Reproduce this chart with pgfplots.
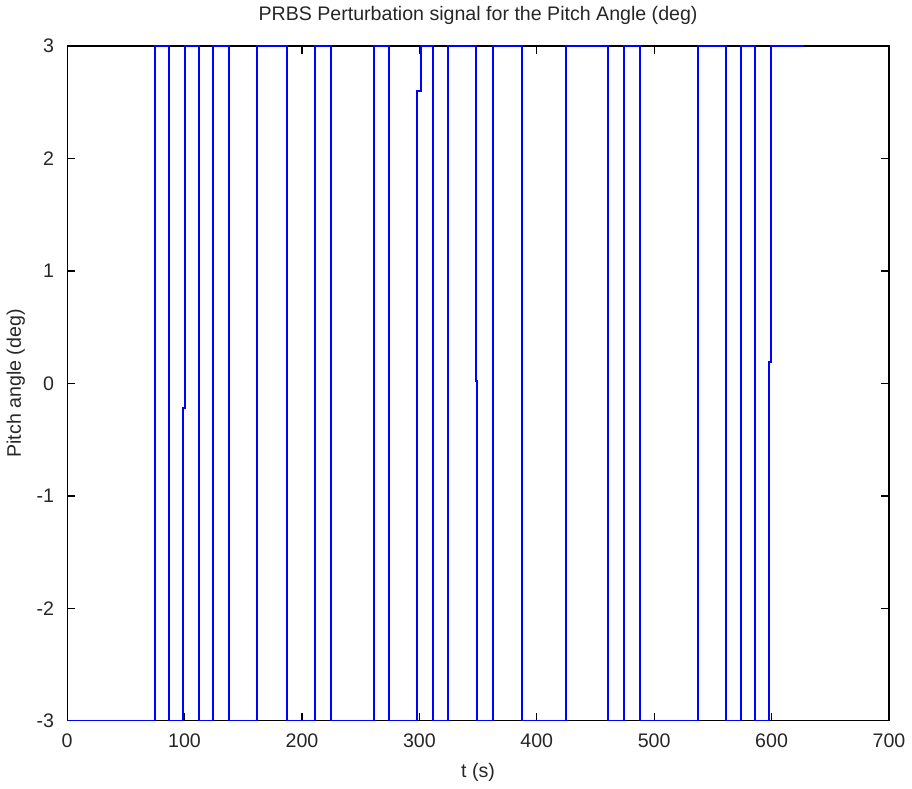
\documentclass[border=0pt]{standalone}
\usepackage{fontspec}
\setmainfont{Liberation Sans}
\usepackage{pgfplots}
\pgfplotsset{compat=1.18}
\begin{document}
\begin{tikzpicture}
\begin{axis}[
  scale only axis,
  width=411pt, height=337.5pt,
  xmin=0, xmax=700, ymin=-3, ymax=3,
  xtick={0,100,...,700}, ytick={-3,-2,...,3},
  tick align=inside, tick pos=both,
  major tick length=4pt,
  axis line style={black, line width=0.6pt},
  every tick/.style={black, line width=0.6pt},
  /pgf/number format/assume math mode=true,
  tick label style={font=\fontsize{9.8}{11}\selectfont, black!85},
  label style={font=\fontsize{9.8}{11}\selectfont, black!85},
  title style={font=\fontsize{9.8}{11}\selectfont, black!85, yshift=1pt},
  title={PRBS Perturbation signal for the Pitch Angle (deg)},
  xlabel={t (s)}, ylabel={Pitch angle (deg)},
  xticklabel style={yshift=-3pt},
  yticklabel style={xshift=-3pt},
  ylabel style={yshift=-1pt},
  xlabel style={yshift=-1pt},
]
\addplot[color={rgb,255:red,0;green,0;blue,255}, line width=1pt] coordinates {
(0,-3) (74.8,-3) (74.8,3) (86.7,3) (86.7,-3) (98.3,-3) (98.3,-0.22) (100.3,-0.22) (100.3,3)
(112.3,3) (112.3,-3) (124.5,-3) (124.5,3) (137.9,3) (137.9,-3) (162.0,-3) (162.0,3)
(187.6,3) (187.6,-3) (211.2,-3) (211.2,3) (224.8,3) (224.8,-3) (261.7,-3) (261.7,3)
(274.3,3) (274.3,-3) (298.4,-3) (298.4,2.6) (301.2,2.6) (301.2,3)
(311.4,3) (311.4,-3) (324.8,-3) (324.8,3) (348.0,3) (348.0,0.02) (349.3,0.02) (349.3,-3)
(362.3,-3) (362.3,3) (387.3,3) (387.3,-3) (425.1,-3) (425.1,3) (460.6,3) (460.6,-3)
(474.0,-3) (474.0,3) (487.6,3) (487.6,-3) (537.1,-3) (537.1,3) (561.2,3) (561.2,-3)
(574.3,-3) (574.3,3) (586.3,3) (586.3,-3) (597.9,-3) (597.9,0.19) (599.9,0.19) (599.9,3)
(627.5,3)
};
\end{axis}
\end{tikzpicture}
\end{document}
